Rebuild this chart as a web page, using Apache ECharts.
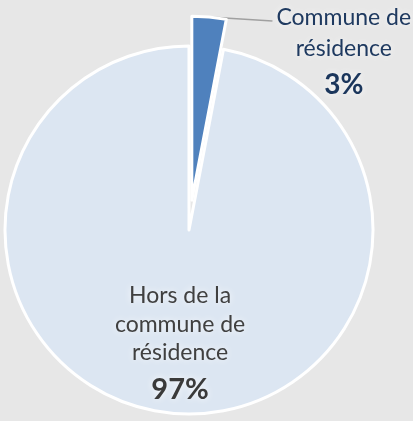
<!DOCTYPE html>
<html>
<head>
<meta charset="utf-8">
<script src="https://cdn.jsdelivr.net/npm/echarts@6/dist/echarts.min.js"></script>
<style>
html,body{margin:0;padding:0;background:#e7e7e7;}
#chart{width:413px;height:421px;}
</style>
</head>
<body>
<div id="chart"></div>
<script>
const categories = ['Commune de résidence', 'Hors de la commune de résidence'];
const values = [3, 97];
const labelTexts = [
  '{a|Commune de\nrésidence}\n{b|3%}',
  '{c|Hors de la\ncommune de\nrésidence}\n{d|97%}'
];

const chart = echarts.init(document.getElementById('chart'), null, {renderer: 'canvas'});
const glow = {textShadowColor: 'rgba(255,255,255,0.95)', textShadowBlur: 7};
chart.setOption({
  backgroundColor: '#e7e7e7',
  animation: false,
  series: [{
    type: 'pie',
    center: [189, 230],
    radius: [0, 184],
    startAngle: 90,
    clockwise: true,
    selectedMode: 'single',
    selectedOffset: 30,
    avoidLabelOverlap: false,
    emphasis: {disabled: true},
    itemStyle: {borderColor: '#ffffff', borderWidth: 3},
    data: [
      {
        name: categories[0], value: values[0], selected: true,
        itemStyle: {color: '#4f81bd'},
        label: {
          show: true, position: 'outside', alignTo: 'none',
          distanceToLabelLine: 4,
          formatter: labelTexts[0],
          fontFamily: 'Lato',
          padding: [80, 0, 0, 0],
          rich: {
            a: Object.assign({fontFamily: 'Lato', fontSize: 23, color: '#1f3a60', lineHeight: 31, align: 'center'}, glow),
            b: Object.assign({fontFamily: 'Lato', fontSize: 28, fontWeight: 'bold', color: '#1b365c', lineHeight: 42, align: 'center'}, glow)
          }
        },
        labelLine: {show: true, length: 3, length2: 63, smooth: false, lineStyle: {color: '#a0a0a0', width: 1.5}}
      },
      {
        name: categories[1], value: values[1],
        itemStyle: {color: '#dce6f2'},
        label: {
          show: true, position: 'inside',
          formatter: labelTexts[1],
          fontFamily: 'Lato',
          rich: {
            c: Object.assign({fontFamily: 'Lato', fontSize: 23, color: '#404040', lineHeight: 28.5, align: 'center'}, glow),
            d: Object.assign({fontFamily: 'Lato', fontSize: 29, fontWeight: 'bold', color: '#3a3a3a', lineHeight: 45, align: 'center'}, glow)
          }
        },
        labelLine: {show: false}
      }
    ],
    labelLayout: function (params) {
      if (params.dataIndex === 1) {
        return {dy: 22};
      }
      const pts = params.labelLinePoints;
      if (pts && pts.length === 3) {
        return {
          labelLinePoints: [
            [pts[0][0], pts[0][1]],
            [pts[0][0], pts[0][1]],
            [pts[2][0], pts[2][1] + 7]
          ]
        };
      }
      return {};
    }
  }]
});
</script>
</body>
</html>
